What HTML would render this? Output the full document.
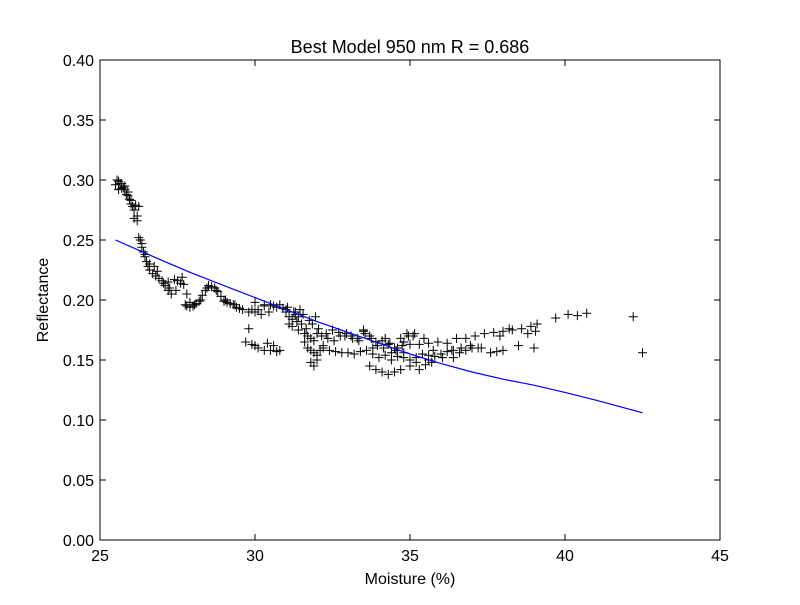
<!DOCTYPE html>
<html><head><meta charset="utf-8"><style>
body{margin:0;background:#fff;font-family:"Liberation Sans",sans-serif}
svg text{font-family:"Liberation Sans",sans-serif;fill:#000}
</style></head><body>
<svg id="c" width="800" height="600" xmlns="http://www.w3.org/2000/svg">
<rect width="800" height="600" fill="#fff"/>
<g id="plot"></g>
<rect x="100" y="60" width="620" height="480" fill="none" stroke="#000" stroke-width="1"/>
<text x="410" y="53" font-size="18" text-anchor="middle">Best Model 950 nm R = 0.686</text>
<text x="410" y="584" font-size="16" text-anchor="middle">Moisture (%)</text>
<text x="48" y="300" font-size="16" text-anchor="middle" transform="rotate(-90 48 300)">Reflectance</text>
</svg>
<script>
const xTicks=[25,30,35,40,45];
const yTicks=[0.00,0.05,0.10,0.15,0.20,0.25,0.30,0.35,0.40];
const fitX=[25.5,27,28,30,32,34,35,36,37,38,39,40,41,42,42.5];
const fitY=[0.25,0.233,0.222,0.202,0.182,0.164,0.155,0.147,0.140,0.134,0.129,0.123,0.1165,0.1095,0.106];
const moisture=[25.5,25.6,25.7,25.8,25.6,25.7,25.9,25.55,25.75,25.85,25.95,26.0,26.05,26.1,26.15,26.2,26.1,26.2,26.25,
26.25,26.3,26.35,26.4,26.45,26.5,26.55,26.6,26.7,26.75,26.8,26.9,27.0,27.1,27.2,27.3,27.2,27.4,27.5,27.6,27.7,27.8,27.9,
27.75,27.8,27.9,28.0,28.1,28.2,28.3,28.4,28.5,28.6,28.7,28.8,28.9,29.0,29.1,29.2,29.3,29.4,29.5,29.6,29.8,30.0,30.1,30.3,30.5,30.7,30.9,
31.0,31.1,31.2,31.3,31.4,31.5,31.2,31.4,31.6,31.7,31.8,31.9,32.0,31.6,31.7,31.8,31.9,32.0,32.1,32.2,31.8,31.9,32.0,
32.3,32.5,32.7,32.9,33.1,33.3,33.5,33.7,33.9,34.1,34.3,34.5,34.7,34.9,35.1,
32.2,32.4,32.6,32.8,33.0,33.2,33.4,33.6,33.8,34.0,34.2,34.4,34.6,34.8,35.0,35.2,35.4,35.6,35.8,36.0,36.2,36.4,36.6,36.8,37.0,
33.7,33.9,34.1,34.3,34.5,34.7,35.0,35.3,35.5,35.7,
29.7,29.9,30.1,30.3,30.5,30.7,30.8,
34.8,35.0,35.3,35.6,35.9,36.2,36.5,36.8,37.1,37.4,37.7,38.0,38.3,38.6,38.9,39.1,
37.2,37.8,38.0,38.5,39.0,39.7,40.1,40.4,40.7,42.2,42.5,
30.0,30.3,30.6,31.0,31.3,31.1,33.5,34.2,34.6,
25.65,25.8,25.9,26.0,26.35,26.45,26.6,26.85,27.05,27.25,27.45,27.65,28.05,28.25,28.45,28.75,29.05,29.35,29.9,30.2,30.45,30.8,
31.05,31.25,31.35,31.45,31.55,31.65,31.75,31.85,31.95,32.05,32.15,32.35,32.55,32.75,32.95,33.15,33.35,33.55,33.75,33.95,
34.15,34.35,34.55,34.75,34.95,35.15,35.45,35.75,36.05,36.35,36.65,36.95,37.3,37.6,37.9,38.2,38.8,39.05,29.8,30.0,30.4,30.6,
33.8,34.0,34.4,34.8,35.2,35.6,36.0,36.4];
const reflect=[0.296,0.299,0.297,0.295,0.292,0.293,0.29,0.3,0.294,0.288,0.284,0.28,0.278,0.275,0.279,0.27,0.268,0.266,0.278,
0.252,0.25,0.244,0.24,0.236,0.232,0.228,0.225,0.222,0.228,0.22,0.218,0.216,0.212,0.208,0.205,0.215,0.217,0.216,0.214,0.213,0.205,0.198,
0.196,0.195,0.194,0.195,0.197,0.199,0.204,0.208,0.212,0.211,0.21,0.207,0.203,0.199,0.198,0.197,0.196,0.194,0.193,0.192,0.19,0.19,0.192,0.195,0.196,0.194,0.193,
0.19,0.186,0.184,0.188,0.186,0.18,0.178,0.175,0.172,0.17,0.168,0.166,0.172,0.165,0.16,0.158,0.156,0.154,0.158,0.162,0.148,0.145,0.15,
0.172,0.175,0.173,0.17,0.17,0.168,0.174,0.17,0.165,0.166,0.163,0.16,0.168,0.172,0.17,
0.16,0.158,0.157,0.156,0.156,0.155,0.157,0.158,0.155,0.152,0.154,0.156,0.153,0.152,0.15,0.152,0.155,0.154,0.153,0.155,0.157,0.158,0.156,0.158,0.16,
0.145,0.142,0.14,0.138,0.14,0.142,0.145,0.142,0.146,0.148,
0.165,0.163,0.16,0.158,0.158,0.157,0.158,
0.165,0.163,0.163,0.164,0.165,0.164,0.168,0.168,0.17,0.172,0.173,0.174,0.175,0.176,0.178,0.18,
0.16,0.157,0.158,0.162,0.16,0.185,0.188,0.187,0.189,0.186,0.156,
0.198,0.196,0.195,0.192,0.19,0.18,0.175,0.168,0.16,
0.297,0.292,0.287,0.283,0.247,0.238,0.23,0.224,0.214,0.21,0.208,0.219,0.196,0.2,0.21,0.208,0.2,0.196,0.192,0.188,0.19,0.196,
0.194,0.19,0.182,0.192,0.188,0.176,0.183,0.18,0.186,0.176,0.17,0.168,0.166,0.17,0.172,0.168,0.166,0.172,0.168,0.162,0.16,
0.164,0.158,0.162,0.17,0.172,0.168,0.158,0.152,0.158,0.16,0.162,0.16,0.156,0.17,0.176,0.172,0.174,0.176,0.162,0.164,0.162,
0.16,0.152,0.15,0.156,0.148,0.15,0.155,0.152,0.15];
const X=v=>100+(v-25)*31, Y=v=>540-v*1200;
const NS="http://www.w3.org/2000/svg", g=document.getElementById('plot');
function mk(t,a){const e=document.createElementNS(NS,t);for(const k in a)e.setAttribute(k,a[k]);g.appendChild(e);return e;}
xTicks.forEach(t=>{const x=X(t);
 let l=mk('path',{d:`M${x},540v-6M${x},60v6`,stroke:'#000'});
 
 
 let s=mk('text',{x:x,y:561,'font-size':16,'text-anchor':'middle'});s.textContent=t;
 
 });
yTicks.forEach(t=>{const y=Y(t);
 let l=mk('path',{d:`M100,${y}h6M720,${y}h-6`,stroke:'#000'});
 
 
 let s=mk('text',{x:94,y:y+6,'font-size':16,'text-anchor':'end'});s.textContent=t.toFixed(2);
 
 });
let d='';moisture.forEach((m,i)=>{const x=X(m),y=Y(reflect[i]);d+=`M${x-4.5},${y}h9M${x},${y-4.5}v9`;});
const pts=mk('path',{d:d,stroke:'#000','stroke-width':1,fill:'none'});


const fl=mk('polyline',{points:fitX.map((v,i)=>X(v)+','+Y(fitY[i])).join(' '),stroke:'#0000ff','stroke-width':1.2,fill:'none'});


</script>
</body></html>
